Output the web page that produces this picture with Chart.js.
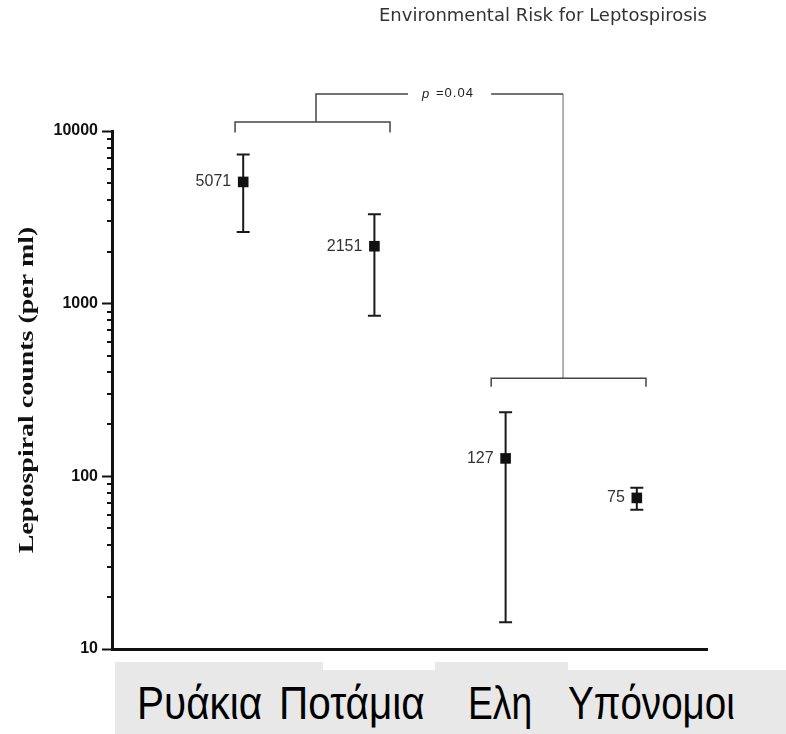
<!DOCTYPE html>
<html lang="el">
  <head>
    <meta charset="UTF-8" />
    <title>Environmental Risk for Leptospirosis</title>
    <script src="https://cdn.jsdelivr.net/npm/chart.js@4.4.0/dist/chart.umd.min.js"></script>
    <style>
      body { margin: 0; background: #fff; }
      #wrap { position: relative; width: 786px; height: 734px; overflow: hidden; }
      #labels span {
        position: absolute;
        top: 680px;
        font-family: "Liberation Sans", Arial, sans-serif;
        font-size: 46px;
        line-height: 46px;
        color: #000;
        white-space: nowrap;
        transform-origin: 0 0;
      }
      .grey { position: absolute; background: #e8e8e8; }
    </style>
  </head>
  <body>
    <div id="wrap">
      <canvas id="myChart" width="786" height="734"></canvas>
      <div class="grey" style="left:115px; top:670px; width:671px; height:64px"></div>
      <div class="grey" style="left:115px; top:662px; width:208px; height:8px"></div>
      <div class="grey" style="left:435px; top:662px; width:133px; height:8px"></div>
      <div id="labels"></div>
    </div>

    <script>
      // categories + values
      const categories = ["Ρυάκια", "Ποτάμια", "Ελη", "Υπόνομοι"];
      const xPos = [1, 2, 3, 4];
      const means = [5071, 2151, 127, 75];
      const errHigh = [7300, 3300, 235, 86];
      const errLow = [2600, 850, 14.3, 64];

      // y axis ticks
      const yTicks = [10, 100, 1000, 10000];
      const minorTicks = [20, 30, 40, 50, 60, 70, 80, 90,
                          200, 300, 400, 500, 600, 700, 800, 900,
                          2000, 3000, 4000, 5000, 6000, 7000, 8000, 9000];
      const yTitle = "Leptospiral counts (per ml)";

      // significance brackets (data coords)
      const brackets = [
        [[0.938, 9800], [0.938, 11270], [2.119, 11270], [2.119, 9800]],
        [[1.555, 11270], [1.555, 16400], [2.256, 16400]],
        [[2.89, 16400], [3.438, 16400]],
        [[2.89, 330], [2.89, 370], [4.07, 370], [4.07, 330]],
      ];
      const connector = [[3.438, 16400], [3.438, 370]];
      const pText = { x: 2.561, y: 16400, text: "=0.04" };

      // greek labels under the axis: left edge and width in px
      const labelLeft = [137, 279, 468, 568];
      const labelWidth = [125, 146, 64, 167];
      const labelBox = document.getElementById("labels");
      categories.forEach((c, i) => {
        const s = document.createElement("span");
        s.textContent = c;
        s.style.left = labelLeft[i] + "px";
        labelBox.appendChild(s);
        s.style.transform = "scaleX(" + (labelWidth[i] / s.offsetWidth) + ")";
      });

      const errorBars = {
        id: "errorBars",
        beforeDatasetsDraw(chart) {
          const { ctx, scales: { x, y } } = chart;
          ctx.save();
          ctx.strokeStyle = "#1a1a1a";
          ctx.lineWidth = 2;
          xPos.forEach((v, i) => {
            const px = x.getPixelForValue(v);
            const hi = y.getPixelForValue(errHigh[i]);
            const lo = y.getPixelForValue(errLow[i]);
            ctx.beginPath();
            ctx.moveTo(px, hi); ctx.lineTo(px, lo);
            ctx.moveTo(px - 6.5, hi); ctx.lineTo(px + 6.5, hi);
            ctx.moveTo(px - 6.5, lo); ctx.lineTo(px + 6.5, lo);
            ctx.stroke();
          });
          ctx.restore();
        },
        afterDatasetsDraw(chart) {
          const { ctx, chartArea, scales: { x, y } } = chart;
          ctx.save();
          // value labels
          ctx.font = "16px 'Liberation Sans', Arial, sans-serif";
          ctx.fillStyle = "#333";
          ctx.textAlign = "right";
          ctx.textBaseline = "middle";
          xPos.forEach((v, i) => {
            ctx.fillText(String(means[i]), x.getPixelForValue(v) - 12, y.getPixelForValue(means[i]));
          });
          // p value
          const cx = x.getPixelForValue(pText.x);
          const cy = y.getPixelForValue(pText.y);
          ctx.font = "italic 13px 'Liberation Sans', Arial, sans-serif";
          ctx.textAlign = "left";
          ctx.fillStyle = "#222";
          ctx.fillText("p", cx - 26, cy);
          ctx.font = "13px 'Liberation Sans', Arial, sans-serif";
          ctx.letterSpacing = "1px";
          ctx.fillText(pText.text, cx - 12, cy);
          ctx.letterSpacing = "0px";
          // minor ticks on y axis
          const left = chartArea.left;
          ctx.strokeStyle = "#111";
          ctx.lineWidth = 2;
          ctx.beginPath();
          minorTicks.forEach((v) => {
            const py = Math.round(y.getPixelForValue(v));
            ctx.moveTo(left - 5, py); ctx.lineTo(left, py);
          });
          ctx.stroke();
          // y axis title, stretched along its length like the original
          ctx.translate(27, (chartArea.top + chartArea.bottom) / 2);
          ctx.rotate(-Math.PI / 2);
          ctx.scale(1.27, 1);
          ctx.font = "bold 22px 'Liberation Serif', 'Times New Roman', serif";
          ctx.fillStyle = "#111";
          ctx.textAlign = "center";
          ctx.textBaseline = "middle";
          ctx.fillText(yTitle, 0, 0);
          ctx.restore();
        },
      };

      const bracketSets = brackets.map((b) => ({
        type: "line",
        data: b.map((p) => ({ x: p[0], y: p[1] })),
        borderColor: "#444",
        borderWidth: 1.5,
        pointRadius: 0,
        clip: false,
      }));
      bracketSets.push({
        type: "line",
        data: connector.map((p) => ({ x: p[0], y: p[1] })),
        borderColor: "#999",
        borderWidth: 1.5,
        pointRadius: 0,
        clip: false,
      });

      const ctx = document.getElementById("myChart").getContext("2d");
      const myChart = new Chart(ctx, {
        type: "scatter",
        data: {
          datasets: [
            {
              label: "counts",
              data: xPos.map((v, i) => ({ x: v, y: means[i] })),
              pointStyle: "rect",
              pointRadius: 7.5,
              pointHoverRadius: 7.5,
              backgroundColor: "#111",
              borderColor: "#111",
              borderWidth: 0,
              clip: false,
            },
            ...bracketSets,
          ],
        },
        plugins: [errorBars],
        options: {
          responsive: false,
          animation: false,
          layout: { padding: { top: 0, left: 0, right: 79, bottom: 0 } },
          plugins: {
            legend: { display: false },
            tooltip: { enabled: false },
            title: {
              display: true,
              text: "Environmental Risk for Leptospirosis",
              align: "end",
              fullSize: false,
              color: "#333",
              font: { family: "'DejaVu Sans', sans-serif", size: 18, weight: "normal" },
              padding: { top: 6, bottom: 103.4 },
            },
          },
          scales: {
            x: {
              type: "linear",
              min: 0,
              max: 4.535,
              ticks: { display: false },
              grid: { display: false },
              border: { display: true, color: "#111", width: 3 },
              afterFit: (scale) => { scale.height = 85; },
            },
            y: {
              type: "logarithmic",
              min: 10,
              max: 10000,
              afterBuildTicks: (axis) => { axis.ticks = yTicks.map((v) => ({ value: v })); },
              ticks: {
                padding: 4,
                color: "#111",
                font: { family: "'Liberation Sans', Arial, sans-serif", size: 16, weight: "bold" },
                callback: (v) => String(v),
              },
              grid: { drawOnChartArea: false, drawTicks: true, tickLength: 10, tickWidth: 2, color: "#111" },
              border: { display: true, color: "#111", width: 3 },
              afterFit: (scale) => { scale.width = 112; },
            },
          },
        },
      });
    </script>
  </body>
</html>
